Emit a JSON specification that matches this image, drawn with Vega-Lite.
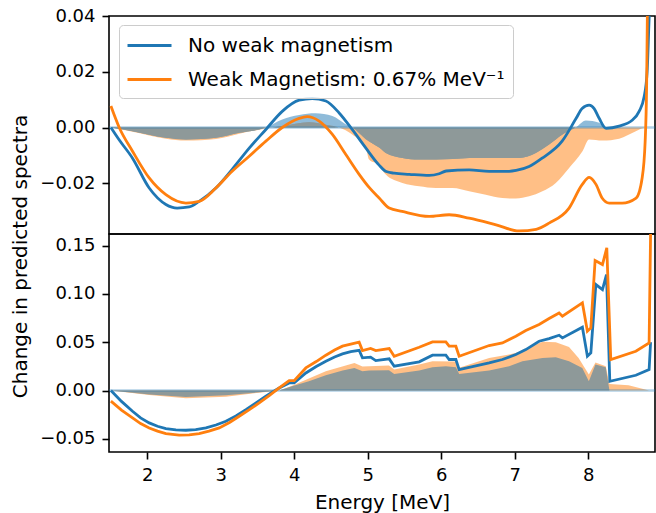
{
  "$schema": "https://vega.github.io/schema/vega-lite/v6.json",
  "padding": {"left": 9, "top": 6, "right": 0, "bottom": 0},
  "bounds": "flush",
  "config": {
    "font": "DejaVu Sans",
    "view": {"stroke": "black", "strokeWidth": 1.6},
    "axis": {"domain": false, "grid": false, "tickColor": "black", "tickWidth": 1.6, "tickSize": 7, "labelFont": "DejaVu Sans", "labelFontSize": 18, "labelColor": "black", "labelPadding": 7, "titleFont": "DejaVu Sans", "titleFontSize": 20, "titleFontWeight": "normal", "titleColor": "black"}
  },
  "datasets": {
    "topLines": [
      {"s": "No weak magnetism", "E": 1.506, "v": 0},
      {"s": "No weak magnetism", "E": 1.62, "v": -0.0045},
      {"s": "No weak magnetism", "E": 1.8, "v": -0.011},
      {"s": "No weak magnetism", "E": 2.027, "v": -0.0217},
      {"s": "No weak magnetism", "E": 2.254, "v": -0.0276},
      {"s": "No weak magnetism", "E": 2.408, "v": -0.0289},
      {"s": "No weak magnetism", "E": 2.571, "v": -0.0285},
      {"s": "No weak magnetism", "E": 2.707, "v": -0.0265},
      {"s": "No weak magnetism", "E": 2.935, "v": -0.0217},
      {"s": "No weak magnetism", "E": 3.156, "v": -0.015},
      {"s": "No weak magnetism", "E": 3.388, "v": -0.0074},
      {"s": "No weak magnetism", "E": 3.615, "v": -0.0007},
      {"s": "No weak magnetism", "E": 3.837, "v": 0.0058},
      {"s": "No weak magnetism", "E": 4.068, "v": 0.0098},
      {"s": "No weak magnetism", "E": 4.245, "v": 0.0104},
      {"s": "No weak magnetism", "E": 4.431, "v": 0.0095},
      {"s": "No weak magnetism", "E": 4.612, "v": 0.0052},
      {"s": "No weak magnetism", "E": 4.789, "v": -0.0007},
      {"s": "No weak magnetism", "E": 4.976, "v": -0.0074},
      {"s": "No weak magnetism", "E": 5.156, "v": -0.0135},
      {"s": "No weak magnetism", "E": 5.252, "v": -0.0158},
      {"s": "No weak magnetism", "E": 5.361, "v": -0.0164},
      {"s": "No weak magnetism", "E": 5.565, "v": -0.0168},
      {"s": "No weak magnetism", "E": 5.837, "v": -0.0172},
      {"s": "No weak magnetism", "E": 5.973, "v": -0.0166},
      {"s": "No weak magnetism", "E": 6.068, "v": -0.0156},
      {"s": "No weak magnetism", "E": 6.381, "v": -0.0152},
      {"s": "No weak magnetism", "E": 6.653, "v": -0.0157},
      {"s": "No weak magnetism", "E": 6.925, "v": -0.0157},
      {"s": "No weak magnetism", "E": 7.02, "v": -0.0154},
      {"s": "No weak magnetism", "E": 7.197, "v": -0.014},
      {"s": "No weak magnetism", "E": 7.374, "v": -0.011},
      {"s": "No weak magnetism", "E": 7.646, "v": -0.0049},
      {"s": "No weak magnetism", "E": 7.837, "v": 0.0033},
      {"s": "No weak magnetism", "E": 7.918, "v": 0.0068},
      {"s": "No weak magnetism", "E": 8.014, "v": 0.008},
      {"s": "No weak magnetism", "E": 8.082, "v": 0.0068},
      {"s": "No weak magnetism", "E": 8.15, "v": 0.0033},
      {"s": "No weak magnetism", "E": 8.245, "v": -0.0003},
      {"s": "No weak magnetism", "E": 8.422, "v": 0.0005},
      {"s": "No weak magnetism", "E": 8.599, "v": 0.0026},
      {"s": "No weak magnetism", "E": 8.694, "v": 0.0058},
      {"s": "No weak magnetism", "E": 8.762, "v": 0.011},
      {"s": "No weak magnetism", "E": 8.803, "v": 0.02},
      {"s": "No weak magnetism", "E": 8.83, "v": 0.039},
      {"s": "No weak magnetism", "E": 8.85, "v": 0.05},
      {"s": "Weak Magnetism: 0.67% MeV⁻¹", "E": 1.506, "v": 0.0077},
      {"s": "Weak Magnetism: 0.67% MeV⁻¹", "E": 1.619, "v": 0},
      {"s": "Weak Magnetism: 0.67% MeV⁻¹", "E": 1.8, "v": -0.0085},
      {"s": "Weak Magnetism: 0.67% MeV⁻¹", "E": 2.027, "v": -0.0181},
      {"s": "Weak Magnetism: 0.67% MeV⁻¹", "E": 2.254, "v": -0.0241},
      {"s": "Weak Magnetism: 0.67% MeV⁻¹", "E": 2.526, "v": -0.0271},
      {"s": "Weak Magnetism: 0.67% MeV⁻¹", "E": 2.707, "v": -0.0265},
      {"s": "Weak Magnetism: 0.67% MeV⁻¹", "E": 2.935, "v": -0.0217},
      {"s": "Weak Magnetism: 0.67% MeV⁻¹", "E": 3.156, "v": -0.0157},
      {"s": "Weak Magnetism: 0.67% MeV⁻¹", "E": 3.388, "v": -0.0103},
      {"s": "Weak Magnetism: 0.67% MeV⁻¹", "E": 3.615, "v": -0.0049},
      {"s": "Weak Magnetism: 0.67% MeV⁻¹", "E": 3.837, "v": 0},
      {"s": "Weak Magnetism: 0.67% MeV⁻¹", "E": 4.068, "v": 0.0033},
      {"s": "Weak Magnetism: 0.67% MeV⁻¹", "E": 4.177, "v": 0.0039},
      {"s": "Weak Magnetism: 0.67% MeV⁻¹", "E": 4.34, "v": 0.0023},
      {"s": "Weak Magnetism: 0.67% MeV⁻¹", "E": 4.517, "v": -0.0024},
      {"s": "Weak Magnetism: 0.67% MeV⁻¹", "E": 4.703, "v": -0.0097},
      {"s": "Weak Magnetism: 0.67% MeV⁻¹", "E": 4.884, "v": -0.0168},
      {"s": "Weak Magnetism: 0.67% MeV⁻¹", "E": 5.02, "v": -0.0215},
      {"s": "Weak Magnetism: 0.67% MeV⁻¹", "E": 5.156, "v": -0.0253},
      {"s": "Weak Magnetism: 0.67% MeV⁻¹", "E": 5.293, "v": -0.0289},
      {"s": "Weak Magnetism: 0.67% MeV⁻¹", "E": 5.469, "v": -0.0301},
      {"s": "Weak Magnetism: 0.67% MeV⁻¹", "E": 5.837, "v": -0.0319},
      {"s": "Weak Magnetism: 0.67% MeV⁻¹", "E": 6.109, "v": -0.0313},
      {"s": "Weak Magnetism: 0.67% MeV⁻¹", "E": 6.381, "v": -0.0325},
      {"s": "Weak Magnetism: 0.67% MeV⁻¹", "E": 6.748, "v": -0.0349},
      {"s": "Weak Magnetism: 0.67% MeV⁻¹", "E": 7.061, "v": -0.0371},
      {"s": "Weak Magnetism: 0.67% MeV⁻¹", "E": 7.293, "v": -0.0365},
      {"s": "Weak Magnetism: 0.67% MeV⁻¹", "E": 7.469, "v": -0.0343},
      {"s": "Weak Magnetism: 0.67% MeV⁻¹", "E": 7.741, "v": -0.0289},
      {"s": "Weak Magnetism: 0.67% MeV⁻¹", "E": 7.918, "v": -0.0205},
      {"s": "Weak Magnetism: 0.67% MeV⁻¹", "E": 8.014, "v": -0.0179},
      {"s": "Weak Magnetism: 0.67% MeV⁻¹", "E": 8.109, "v": -0.0205},
      {"s": "Weak Magnetism: 0.67% MeV⁻¹", "E": 8.19, "v": -0.0253},
      {"s": "Weak Magnetism: 0.67% MeV⁻¹", "E": 8.286, "v": -0.0271},
      {"s": "Weak Magnetism: 0.67% MeV⁻¹", "E": 8.463, "v": -0.0271},
      {"s": "Weak Magnetism: 0.67% MeV⁻¹", "E": 8.653, "v": -0.0253},
      {"s": "Weak Magnetism: 0.67% MeV⁻¹", "E": 8.735, "v": -0.0181},
      {"s": "Weak Magnetism: 0.67% MeV⁻¹", "E": 8.776, "v": -0.005},
      {"s": "Weak Magnetism: 0.67% MeV⁻¹", "E": 8.796, "v": 0.015},
      {"s": "Weak Magnetism: 0.67% MeV⁻¹", "E": 8.81, "v": 0.05}
    ],
    "topBlueArea": [
      {"E": 1.506, "v": 0}, {"E": 1.8, "v": -0.0013}, {"E": 2.254, "v": -0.0037}, {"E": 2.526, "v": -0.0043},
      {"E": 2.935, "v": -0.0037}, {"E": 3.252, "v": -0.0019}, {"E": 3.524, "v": -0.0007}, {"E": 3.615, "v": 0},
      {"E": 3.837, "v": 0.0029}, {"E": 4.068, "v": 0.0045}, {"E": 4.29, "v": 0.0051}, {"E": 4.52, "v": 0.0041},
      {"E": 4.7, "v": 0.0012}, {"E": 4.79, "v": 0}, {"E": 4.976, "v": -0.0042}, {"E": 5.156, "v": -0.0072},
      {"E": 5.247, "v": -0.0091}, {"E": 5.473, "v": -0.0109}, {"E": 5.701, "v": -0.0115}, {"E": 6.154, "v": -0.0113},
      {"E": 6.381, "v": -0.0109}, {"E": 6.834, "v": -0.0109}, {"E": 7.061, "v": -0.0109}, {"E": 7.288, "v": -0.0091},
      {"E": 7.469, "v": -0.0061}, {"E": 7.651, "v": -0.0025}, {"E": 7.833, "v": 0}, {"E": 7.969, "v": 0.0025},
      {"E": 8.15, "v": 0.0017}, {"E": 8.24, "v": 0}, {"E": 8.91, "v": 0}
    ],
    "topOrangeArea": [
      {"E": 1.506, "v": 0}, {"E": 1.8, "v": -0.0015}, {"E": 2.254, "v": -0.004}, {"E": 2.526, "v": -0.0047},
      {"E": 2.935, "v": -0.0041}, {"E": 3.252, "v": -0.0022}, {"E": 3.524, "v": -0.0008}, {"E": 3.7, "v": 0},
      {"E": 3.837, "v": 0.0005}, {"E": 4.2, "v": 0.0019}, {"E": 4.43, "v": 0.001}, {"E": 4.61, "v": 0},
      {"E": 4.79, "v": -0.0025}, {"E": 4.976, "v": -0.0074}, {"E": 5.02, "v": -0.0115}, {"E": 5.156, "v": -0.0135},
      {"E": 5.247, "v": -0.0169}, {"E": 5.473, "v": -0.0199}, {"E": 5.701, "v": -0.0211}, {"E": 5.928, "v": -0.0217},
      {"E": 6.154, "v": -0.0217}, {"E": 6.381, "v": -0.0229}, {"E": 6.608, "v": -0.0241}, {"E": 6.834, "v": -0.0253},
      {"E": 7.016, "v": -0.0255}, {"E": 7.197, "v": -0.0247}, {"E": 7.378, "v": -0.0229}, {"E": 7.56, "v": -0.0199},
      {"E": 7.741, "v": -0.0145}, {"E": 7.923, "v": -0.0085}, {"E": 8.014, "v": -0.0043}, {"E": 8.195, "v": -0.0047},
      {"E": 8.422, "v": -0.004}, {"E": 8.649, "v": -0.0013}, {"E": 8.785, "v": 0}, {"E": 8.91, "v": 0}
    ],
    "topGray": [
      {"E": 1.506, "v": 0}, {"E": 1.8, "v": -0.0013}, {"E": 2.254, "v": -0.0037}, {"E": 2.526, "v": -0.0043},
      {"E": 2.935, "v": -0.0037}, {"E": 3.252, "v": -0.0019}, {"E": 3.524, "v": -0.0007}, {"E": 3.615, "v": 0},
      {"E": 3.7, "v": 0}, {"E": 3.837, "v": 0.0005}, {"E": 4.2, "v": 0.0019}, {"E": 4.43, "v": 0.001},
      {"E": 4.61, "v": 0}, {"E": 4.79, "v": 0}, {"E": 4.976, "v": -0.0042}, {"E": 5.156, "v": -0.0072},
      {"E": 5.247, "v": -0.0091}, {"E": 5.473, "v": -0.0109}, {"E": 5.701, "v": -0.0115}, {"E": 6.154, "v": -0.0113},
      {"E": 6.381, "v": -0.0109}, {"E": 6.834, "v": -0.0109}, {"E": 7.061, "v": -0.0109}, {"E": 7.288, "v": -0.0091},
      {"E": 7.469, "v": -0.0061}, {"E": 7.651, "v": -0.0025}, {"E": 7.833, "v": 0}, {"E": 8.91, "v": 0}
    ],
    "botLines": [
      {"s": "No weak magnetism", "E": 1.506, "v": 0},
      {"s": "No weak magnetism", "E": 1.65, "v": -0.0112},
      {"s": "No weak magnetism", "E": 1.8, "v": -0.0214},
      {"s": "No weak magnetism", "E": 1.91, "v": -0.0283},
      {"s": "No weak magnetism", "E": 2.027, "v": -0.0335},
      {"s": "No weak magnetism", "E": 2.14, "v": -0.037},
      {"s": "No weak magnetism", "E": 2.254, "v": -0.0394},
      {"s": "No weak magnetism", "E": 2.39, "v": -0.0407},
      {"s": "No weak magnetism", "E": 2.526, "v": -0.0411},
      {"s": "No weak magnetism", "E": 2.66, "v": -0.0404},
      {"s": "No weak magnetism", "E": 2.799, "v": -0.0387},
      {"s": "No weak magnetism", "E": 2.935, "v": -0.0357},
      {"s": "No weak magnetism", "E": 3.071, "v": -0.0318},
      {"s": "No weak magnetism", "E": 3.207, "v": -0.0262},
      {"s": "No weak magnetism", "E": 3.343, "v": -0.0197},
      {"s": "No weak magnetism", "E": 3.48, "v": -0.0128},
      {"s": "No weak magnetism", "E": 3.615, "v": -0.0059},
      {"s": "No weak magnetism", "E": 3.7, "v": -0.0018},
      {"s": "No weak magnetism", "E": 3.796, "v": 0.0027},
      {"s": "No weak magnetism", "E": 3.932, "v": 0.0079},
      {"s": "No weak magnetism", "E": 4.0, "v": 0.0079},
      {"s": "No weak magnetism", "E": 4.159, "v": 0.0182},
      {"s": "No weak magnetism", "E": 4.3, "v": 0.0248},
      {"s": "No weak magnetism", "E": 4.431, "v": 0.0303},
      {"s": "No weak magnetism", "E": 4.55, "v": 0.0347},
      {"s": "No weak magnetism", "E": 4.657, "v": 0.0379},
      {"s": "No weak magnetism", "E": 4.77, "v": 0.0402},
      {"s": "No weak magnetism", "E": 4.884, "v": 0.0417},
      {"s": "No weak magnetism", "E": 4.929, "v": 0.0338},
      {"s": "No weak magnetism", "E": 5.04, "v": 0.0345},
      {"s": "No weak magnetism", "E": 5.11, "v": 0.031},
      {"s": "No weak magnetism", "E": 5.293, "v": 0.0328},
      {"s": "No weak magnetism", "E": 5.361, "v": 0.0252},
      {"s": "No weak magnetism", "E": 5.701, "v": 0.0297},
      {"s": "No weak magnetism", "E": 5.882, "v": 0.0366},
      {"s": "No weak magnetism", "E": 6.064, "v": 0.0366},
      {"s": "No weak magnetism", "E": 6.109, "v": 0.0321},
      {"s": "No weak magnetism", "E": 6.2, "v": 0.0321},
      {"s": "No weak magnetism", "E": 6.245, "v": 0.0217},
      {"s": "No weak magnetism", "E": 6.653, "v": 0.0286},
      {"s": "No weak magnetism", "E": 6.834, "v": 0.0321},
      {"s": "No weak magnetism", "E": 7.016, "v": 0.0373},
      {"s": "No weak magnetism", "E": 7.152, "v": 0.0424},
      {"s": "No weak magnetism", "E": 7.333, "v": 0.051},
      {"s": "No weak magnetism", "E": 7.469, "v": 0.0538},
      {"s": "No weak magnetism", "E": 7.605, "v": 0.0572},
      {"s": "No weak magnetism", "E": 7.65, "v": 0.0545},
      {"s": "No weak magnetism", "E": 7.922, "v": 0.0655},
      {"s": "No weak magnetism", "E": 7.99, "v": 0.0355},
      {"s": "No weak magnetism", "E": 8.037, "v": 0.039},
      {"s": "No weak magnetism", "E": 8.105, "v": 0.1097},
      {"s": "No weak magnetism", "E": 8.195, "v": 0.1045},
      {"s": "No weak magnetism", "E": 8.25, "v": 0.12},
      {"s": "No weak magnetism", "E": 8.295, "v": 0.0096},
      {"s": "No weak magnetism", "E": 8.649, "v": 0.0158},
      {"s": "No weak magnetism", "E": 8.83, "v": 0.0217},
      {"s": "No weak magnetism", "E": 8.85, "v": 0.05},
      {"s": "Weak Magnetism: 0.67% MeV⁻¹", "E": 1.506, "v": -0.011},
      {"s": "Weak Magnetism: 0.67% MeV⁻¹", "E": 1.65, "v": -0.0203},
      {"s": "Weak Magnetism: 0.67% MeV⁻¹", "E": 1.8, "v": -0.0283},
      {"s": "Weak Magnetism: 0.67% MeV⁻¹", "E": 1.91, "v": -0.0342},
      {"s": "Weak Magnetism: 0.67% MeV⁻¹", "E": 2.027, "v": -0.0387},
      {"s": "Weak Magnetism: 0.67% MeV⁻¹", "E": 2.14, "v": -0.042},
      {"s": "Weak Magnetism: 0.67% MeV⁻¹", "E": 2.254, "v": -0.0445},
      {"s": "Weak Magnetism: 0.67% MeV⁻¹", "E": 2.435, "v": -0.0462},
      {"s": "Weak Magnetism: 0.67% MeV⁻¹", "E": 2.57, "v": -0.0458},
      {"s": "Weak Magnetism: 0.67% MeV⁻¹", "E": 2.707, "v": -0.0445},
      {"s": "Weak Magnetism: 0.67% MeV⁻¹", "E": 2.84, "v": -0.042},
      {"s": "Weak Magnetism: 0.67% MeV⁻¹", "E": 2.98, "v": -0.0387},
      {"s": "Weak Magnetism: 0.67% MeV⁻¹", "E": 3.12, "v": -0.033},
      {"s": "Weak Magnetism: 0.67% MeV⁻¹", "E": 3.252, "v": -0.0266},
      {"s": "Weak Magnetism: 0.67% MeV⁻¹", "E": 3.39, "v": -0.0198},
      {"s": "Weak Magnetism: 0.67% MeV⁻¹", "E": 3.524, "v": -0.0128},
      {"s": "Weak Magnetism: 0.67% MeV⁻¹", "E": 3.66, "v": -0.0052},
      {"s": "Weak Magnetism: 0.67% MeV⁻¹", "E": 3.796, "v": 0.0027},
      {"s": "Weak Magnetism: 0.67% MeV⁻¹", "E": 3.932, "v": 0.0103},
      {"s": "Weak Magnetism: 0.67% MeV⁻¹", "E": 4.0, "v": 0.0103},
      {"s": "Weak Magnetism: 0.67% MeV⁻¹", "E": 4.159, "v": 0.0234},
      {"s": "Weak Magnetism: 0.67% MeV⁻¹", "E": 4.3, "v": 0.030},
      {"s": "Weak Magnetism: 0.67% MeV⁻¹", "E": 4.431, "v": 0.0366},
      {"s": "Weak Magnetism: 0.67% MeV⁻¹", "E": 4.55, "v": 0.042},
      {"s": "Weak Magnetism: 0.67% MeV⁻¹", "E": 4.657, "v": 0.0459},
      {"s": "Weak Magnetism: 0.67% MeV⁻¹", "E": 4.77, "v": 0.048},
      {"s": "Weak Magnetism: 0.67% MeV⁻¹", "E": 4.884, "v": 0.05},
      {"s": "Weak Magnetism: 0.67% MeV⁻¹", "E": 4.929, "v": 0.0414},
      {"s": "Weak Magnetism: 0.67% MeV⁻¹", "E": 5.04, "v": 0.0435},
      {"s": "Weak Magnetism: 0.67% MeV⁻¹", "E": 5.11, "v": 0.0414},
      {"s": "Weak Magnetism: 0.67% MeV⁻¹", "E": 5.293, "v": 0.0435},
      {"s": "Weak Magnetism: 0.67% MeV⁻¹", "E": 5.361, "v": 0.0355},
      {"s": "Weak Magnetism: 0.67% MeV⁻¹", "E": 5.701, "v": 0.0448},
      {"s": "Weak Magnetism: 0.67% MeV⁻¹", "E": 5.882, "v": 0.0503},
      {"s": "Weak Magnetism: 0.67% MeV⁻¹", "E": 6.064, "v": 0.0503},
      {"s": "Weak Magnetism: 0.67% MeV⁻¹", "E": 6.109, "v": 0.0459},
      {"s": "Weak Magnetism: 0.67% MeV⁻¹", "E": 6.2, "v": 0.0459},
      {"s": "Weak Magnetism: 0.67% MeV⁻¹", "E": 6.245, "v": 0.0355},
      {"s": "Weak Magnetism: 0.67% MeV⁻¹", "E": 6.653, "v": 0.0466},
      {"s": "Weak Magnetism: 0.67% MeV⁻¹", "E": 6.834, "v": 0.0493},
      {"s": "Weak Magnetism: 0.67% MeV⁻¹", "E": 7.016, "v": 0.0562},
      {"s": "Weak Magnetism: 0.67% MeV⁻¹", "E": 7.152, "v": 0.0621},
      {"s": "Weak Magnetism: 0.67% MeV⁻¹", "E": 7.333, "v": 0.0683},
      {"s": "Weak Magnetism: 0.67% MeV⁻¹", "E": 7.469, "v": 0.0745},
      {"s": "Weak Magnetism: 0.67% MeV⁻¹", "E": 7.605, "v": 0.0803},
      {"s": "Weak Magnetism: 0.67% MeV⁻¹", "E": 7.65, "v": 0.077},
      {"s": "Weak Magnetism: 0.67% MeV⁻¹", "E": 7.922, "v": 0.0907},
      {"s": "Weak Magnetism: 0.67% MeV⁻¹", "E": 7.99, "v": 0.0614},
      {"s": "Weak Magnetism: 0.67% MeV⁻¹", "E": 8.037, "v": 0.0648},
      {"s": "Weak Magnetism: 0.67% MeV⁻¹", "E": 8.095, "v": 0.1346},
      {"s": "Weak Magnetism: 0.67% MeV⁻¹", "E": 8.195, "v": 0.1304},
      {"s": "Weak Magnetism: 0.67% MeV⁻¹", "E": 8.254, "v": 0.1476},
      {"s": "Weak Magnetism: 0.67% MeV⁻¹", "E": 8.308, "v": 0.0321},
      {"s": "Weak Magnetism: 0.67% MeV⁻¹", "E": 8.649, "v": 0.0407},
      {"s": "Weak Magnetism: 0.67% MeV⁻¹", "E": 8.83, "v": 0.0493},
      {"s": "Weak Magnetism: 0.67% MeV⁻¹", "E": 8.853, "v": 0.18}
    ],
    "botBlueArea": [
      {"E": 1.506, "v": 0}, {"E": 2.027, "v": -0.0041}, {"E": 2.526, "v": -0.0066}, {"E": 3.071, "v": -0.0049},
      {"E": 3.43, "v": -0.0025}, {"E": 3.796, "v": 0}, {"E": 3.97, "v": 0.0045}, {"E": 4.2, "v": 0.0096},
      {"E": 4.43, "v": 0.0158}, {"E": 4.66, "v": 0.0207}, {"E": 4.82, "v": 0.0234}, {"E": 4.929, "v": 0.02},
      {"E": 5.02, "v": 0.0207}, {"E": 5.29, "v": 0.021}, {"E": 5.361, "v": 0.0172}, {"E": 5.701, "v": 0.0207},
      {"E": 5.882, "v": 0.0241}, {"E": 6.064, "v": 0.0252}, {"E": 6.2, "v": 0.0241}, {"E": 6.245, "v": 0.017},
      {"E": 6.653, "v": 0.0207}, {"E": 6.925, "v": 0.0252}, {"E": 7.106, "v": 0.0303}, {"E": 7.38, "v": 0.0338},
      {"E": 7.56, "v": 0.0345}, {"E": 7.74, "v": 0.0303}, {"E": 7.92, "v": 0.0234}, {"E": 8.01, "v": 0.0096},
      {"E": 8.1, "v": 0.0269}, {"E": 8.24, "v": 0.0241}, {"E": 8.29, "v": 0}, {"E": 8.91, "v": 0}
    ],
    "botOrangeArea": [
      {"E": 1.506, "v": 0}, {"E": 2.027, "v": -0.0045}, {"E": 2.526, "v": -0.008}, {"E": 3.071, "v": -0.0065},
      {"E": 3.43, "v": -0.003}, {"E": 3.796, "v": 0}, {"E": 3.97, "v": 0.005}, {"E": 4.43, "v": 0.02},
      {"E": 4.82, "v": 0.0286}, {"E": 4.929, "v": 0.025}, {"E": 5.02, "v": 0.0252}, {"E": 5.29, "v": 0.026},
      {"E": 5.361, "v": 0.0217}, {"E": 5.701, "v": 0.027}, {"E": 5.882, "v": 0.0303}, {"E": 6.2, "v": 0.03},
      {"E": 6.245, "v": 0.0235}, {"E": 6.653, "v": 0.0338}, {"E": 6.925, "v": 0.0373}, {"E": 7.106, "v": 0.0407},
      {"E": 7.288, "v": 0.0476}, {"E": 7.38, "v": 0.0504}, {"E": 7.56, "v": 0.05}, {"E": 7.74, "v": 0.045},
      {"E": 7.87, "v": 0.0338}, {"E": 8.01, "v": 0.0165}, {"E": 8.1, "v": 0.029}, {"E": 8.24, "v": 0.0252},
      {"E": 8.29, "v": 0.0069}, {"E": 8.55, "v": 0.0055}, {"E": 8.83, "v": 0}, {"E": 8.91, "v": 0}
    ]
  },
  "vconcat": [
    {
      "width": 546,
      "height": 218,
      "layer": [
        {
          "data": {"name": "topOrangeArea"},
          "mark": {"type": "area", "color": "#ff7f0e", "opacity": 0.5, "interpolate": "monotone"},
          "encoding": {
            "x": {"field": "E", "type": "quantitative", "scale": {"domain": [1.48, 8.91], "nice": false, "zero": false}, "axis": null},
            "y": {"field": "v", "type": "quantitative", "scale": {"domain": [-0.0382, 0.04], "nice": false, "zero": false},
              "axis": {"values": [-0.02, 0, 0.02, 0.04], "format": ".2f", "title": "Change in predicted spectra", "titleX": -83, "titleY": 240, "titleBaseline": "alphabetic"}},
            "y2": {"datum": 0}
          }
        },
        {
          "data": {"name": "topBlueArea"},
          "mark": {"type": "area", "color": "#1f77b4", "opacity": 0.5, "interpolate": "monotone"},
          "encoding": {
            "x": {"field": "E", "type": "quantitative"},
            "y": {"field": "v", "type": "quantitative"},
            "y2": {"datum": 0}
          }
        },
        {
          "data": {"name": "topGray"},
          "mark": {"type": "area", "color": "#8e9999", "opacity": 1, "interpolate": "monotone"},
          "encoding": {
            "x": {"field": "E", "type": "quantitative"},
            "y": {"field": "v", "type": "quantitative"},
            "y2": {"datum": 0}
          }
        },
        {
          "data": {"values": [{}]},
          "mark": {"type": "rule", "color": "#1f77b4", "opacity": 0.35, "strokeWidth": 2.5},
          "encoding": {"y": {"datum": 0}}
        },
        {
          "data": {"name": "topLines"},
          "mark": {"type": "line", "strokeWidth": 2.8, "interpolate": "monotone", "clip": true},
          "encoding": {
            "x": {"field": "E", "type": "quantitative"},
            "y": {"field": "v", "type": "quantitative"},
            "color": {"field": "s", "type": "nominal",
              "scale": {"domain": ["No weak magnetism", "Weak Magnetism: 0.67% MeV⁻¹"], "range": ["#1f77b4", "#ff7f0e"]},
              "legend": {"orient": "none", "legendX": 10, "legendY": 9, "title": null, "symbolType": "M-1.09,0H2.91", "symbolSize": 484, "symbolStrokeWidth": 2.8, "labelFontSize": 20, "labelFont": "DejaVu Sans", "labelColor": "black", "labelLimit": 0, "labelOffset": 36, "padding": 8, "rowPadding": 11, "fillColor": "rgba(255,255,255,0.8)", "strokeColor": "#cccccc", "cornerRadius": 4}
            }
          }
        }
      ]
    },
    {
      "width": 546,
      "height": 218,
      "layer": [
        {
          "data": {"name": "botOrangeArea"},
          "mark": {"type": "area", "color": "#ff7f0e", "opacity": 0.5},
          "encoding": {
            "x": {"field": "E", "type": "quantitative", "scale": {"domain": [1.48, 8.91], "nice": false, "zero": false},
              "axis": {"values": [2, 3, 4, 5, 6, 7, 8], "format": "d", "title": "Energy [MeV]", "titlePadding": 8}},
            "y": {"field": "v", "type": "quantitative", "scale": {"domain": [-0.0636, 0.162], "nice": false, "zero": false},
              "axis": {"values": [-0.05, 0, 0.05, 0.1, 0.15], "format": ".2f", "title": null}},
            "y2": {"datum": 0}
          }
        },
        {
          "data": {"name": "botBlueArea"},
          "mark": {"type": "area", "color": "#8e9999", "opacity": 1},
          "encoding": {
            "x": {"field": "E", "type": "quantitative"},
            "y": {"field": "v", "type": "quantitative"},
            "y2": {"datum": 0}
          }
        },
        {
          "data": {"values": [{}]},
          "mark": {"type": "rule", "color": "#1f77b4", "opacity": 0.35, "strokeWidth": 2.5},
          "encoding": {"y": {"datum": 0}}
        },
        {
          "data": {"name": "botLines"},
          "mark": {"type": "line", "strokeWidth": 2.8, "clip": true},
          "encoding": {
            "x": {"field": "E", "type": "quantitative"},
            "y": {"field": "v", "type": "quantitative"},
            "color": {"field": "s", "type": "nominal",
              "scale": {"domain": ["No weak magnetism", "Weak Magnetism: 0.67% MeV⁻¹"], "range": ["#1f77b4", "#ff7f0e"]},
              "legend": null}
          }
        }
      ]
    }
  ],
  "spacing": 0,
  "resolve": {"scale": {"color": "independent"}}
}
